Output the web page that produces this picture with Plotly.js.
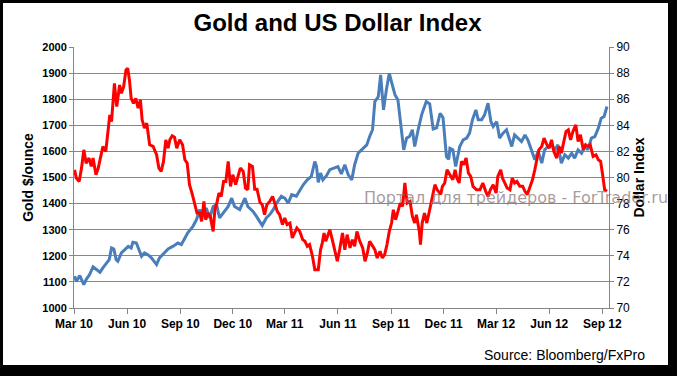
<!DOCTYPE html>
<html><head><meta charset="utf-8">
<script src="https://cdn.plot.ly/plotly-3.0.1.min.js"></script>
<style>
html,body{margin:0;padding:0;background:#000;width:677px;height:376px;overflow:hidden}
#chart{position:absolute;left:3px;top:3px;width:665px;height:362px;background:#fff;overflow:hidden}
</style></head><body><div id="chart"></div>
<script>
// Gold price ($/ounce), left axis
var goldDates = [
'2010-03-02','2010-03-05','2010-03-11','2010-03-14','2010-03-18','2010-03-22','2010-03-28',
'2010-04-03','2010-04-09','2010-04-15','2010-04-20','2010-04-26',
'2010-05-01','2010-05-05','2010-05-09','2010-05-13','2010-05-16','2010-05-22','2010-05-28',
'2010-06-03','2010-06-08','2010-06-11','2010-06-17','2010-06-20','2010-06-26',
'2010-07-01','2010-07-07','2010-07-13','2010-07-22','2010-07-27',
'2010-08-05','2010-08-11','2010-08-19','2010-08-28',
'2010-09-03','2010-09-09','2010-09-14','2010-09-23','2010-09-29',
'2010-10-05','2010-10-10','2010-10-16','2010-10-22','2010-10-28',
'2010-11-03','2010-11-08','2010-11-14','2010-11-23','2010-11-29',
'2010-12-04','2010-12-13','2010-12-22','2010-12-27',
'2011-01-05','2011-01-11','2011-01-17','2011-01-21','2011-01-28',
'2011-02-03','2011-02-09','2011-02-15','2011-02-23',
'2011-03-01','2011-03-07','2011-03-13','2011-03-21','2011-03-27',
'2011-04-02','2011-04-09','2011-04-16','2011-04-22','2011-04-25','2011-04-28',
'2011-05-02','2011-05-06','2011-05-12','2011-05-18','2011-05-27',
'2011-06-01','2011-06-07','2011-06-13','2011-06-19','2011-06-25','2011-06-30',
'2011-07-06','2011-07-12','2011-07-21','2011-07-26','2011-07-31',
'2011-08-04','2011-08-10','2011-08-14','2011-08-17','2011-08-19','2011-08-24','2011-08-29',
'2011-09-04','2011-09-08','2011-09-13','2011-09-17','2011-09-21','2011-09-23','2011-09-28',
'2011-10-03','2011-10-08','2011-10-12','2011-10-18','2011-10-24',
'2011-11-01','2011-11-07','2011-11-13','2011-11-19','2011-11-25','2011-11-30',
'2011-12-06','2011-12-10','2011-12-12','2011-12-17','2011-12-22','2011-12-29',
'2012-01-04','2012-01-10','2012-01-15','2012-01-20','2012-01-26','2012-01-30',
'2012-02-05','2012-02-10','2012-02-16','2012-02-21','2012-02-25',
'2012-03-02','2012-03-07','2012-03-13','2012-03-19','2012-03-28',
'2012-04-02','2012-04-08','2012-04-14','2012-04-20','2012-04-25',
'2012-05-01','2012-05-07','2012-05-13','2012-05-19','2012-05-24','2012-05-30',
'2012-06-05','2012-06-11','2012-06-16','2012-06-22','2012-06-28',
'2012-07-04','2012-07-10','2012-07-15','2012-07-21','2012-07-27',
'2012-08-02','2012-08-07','2012-08-13','2012-08-19','2012-08-25','2012-08-30',
'2012-09-04','2012-09-09'];
var goldPrices = [
1122,1102,1124,1110,1090,1109,1128,
1158,1147,1137,1154,1173,
1185,1230,1226,1185,1179,1211,1224,
1236,1230,1252,1249,1230,1198,
1211,1204,1192,1166,1192,
1211,1226,1236,1249,
1243,1268,1288,1313,1338,
1377,1351,1383,1345,1389,
1396,1345,1364,1389,1421,
1389,1377,1421,1389,
1370,1351,1332,1316,1345,
1358,1377,1402,1428,
1421,1402,1434,1428,1453,
1472,1491,1504,1561,1542,1481,
1517,1491,1506,1530,1536,
1542,1514,1549,1510,1491,1549,
1593,1606,1625,1657,1683,
1791,1810,1893,1810,1759,1836,1899,
1848,1816,1797,1721,1644,1606,1651,
1657,1683,1619,1683,1740,
1791,1782,1686,1690,1746,1730,
1580,1570,1612,1606,1542,1619,
1644,1651,1670,1721,1759,1721,
1721,1740,1785,1714,1695,
1714,1651,1670,1683,1619,
1663,1651,1638,1663,1644,
1606,1568,1600,1555,1606,1619,
1625,1606,1625,1555,1587,
1574,1593,1574,1606,1593,
1619,1606,1651,1657,1689,1727,
1734,1772];

// US Dollar Index, right axis
var usdDates = [
'2010-03-02','2010-03-05','2010-03-10','2010-03-14','2010-03-18','2010-03-22','2010-03-27','2010-03-31',
'2010-04-03','2010-04-08','2010-04-12','2010-04-16','2010-04-20','2010-04-25','2010-04-29',
'2010-05-02','2010-05-05','2010-05-08','2010-05-10','2010-05-14','2010-05-19','2010-05-22','2010-05-26','2010-05-30',
'2010-06-02','2010-06-05','2010-06-08','2010-06-12','2010-06-16','2010-06-20','2010-06-24','2010-06-27',
'2010-07-01','2010-07-05','2010-07-10','2010-07-16','2010-07-22','2010-07-26','2010-07-30',
'2010-08-03','2010-08-07','2010-08-11','2010-08-14','2010-08-18','2010-08-22','2010-08-26','2010-08-31',
'2010-09-05','2010-09-09','2010-09-13','2010-09-17','2010-09-22','2010-09-26','2010-09-30',
'2010-10-05','2010-10-08','2010-10-12','2010-10-15','2010-10-19','2010-10-23','2010-10-28','2010-10-31',
'2010-11-04','2010-11-07','2010-11-11','2010-11-15','2010-11-19','2010-11-23','2010-11-27',
'2010-12-01','2010-12-06','2010-12-10','2010-12-14','2010-12-19','2010-12-23','2010-12-27','2010-12-30',
'2011-01-04','2011-01-08','2011-01-12','2011-01-17','2011-01-21','2011-01-25','2011-01-29',
'2011-02-03','2011-02-08','2011-02-12','2011-02-16','2011-02-20','2011-02-25',
'2011-03-01','2011-03-05','2011-03-10','2011-03-14','2011-03-18','2011-03-22','2011-03-27',
'2011-04-01','2011-04-05','2011-04-09','2011-04-13','2011-04-18','2011-04-22','2011-04-28',
'2011-05-02','2011-05-05','2011-05-08','2011-05-11','2011-05-15','2011-05-18','2011-05-23','2011-05-27','2011-05-31',
'2011-06-04','2011-06-09','2011-06-13','2011-06-17','2011-06-22','2011-06-26','2011-06-30',
'2011-07-04','2011-07-09','2011-07-14','2011-07-18','2011-07-22','2011-07-26','2011-07-31',
'2011-08-04','2011-08-08','2011-08-13','2011-08-17','2011-08-21','2011-08-25','2011-08-29',
'2011-09-02','2011-09-05','2011-09-09','2011-09-13','2011-09-17','2011-09-21','2011-09-25','2011-09-29',
'2011-10-04','2011-10-08','2011-10-12','2011-10-15','2011-10-20','2011-10-22','2011-10-25','2011-10-29',
'2011-11-02','2011-11-07','2011-11-12','2011-11-16','2011-11-20','2011-11-26','2011-11-29',
'2011-12-03','2011-12-07','2011-12-11','2011-12-17','2011-12-21','2011-12-24','2011-12-28',
'2012-01-01','2012-01-05','2012-01-09','2012-01-13','2012-01-17','2012-01-21','2012-01-27',
'2012-02-02','2012-02-07','2012-02-12','2012-02-16','2012-02-20','2012-02-25',
'2012-03-01','2012-03-04','2012-03-09','2012-03-12','2012-03-16','2012-03-20','2012-03-25','2012-03-29',
'2012-04-02','2012-04-06','2012-04-11','2012-04-16','2012-04-20','2012-04-24','2012-04-28',
'2012-05-03','2012-05-07','2012-05-10','2012-05-14','2012-05-19','2012-05-23','2012-05-28',
'2012-06-01','2012-06-05','2012-06-09','2012-06-14','2012-06-18','2012-06-22','2012-06-26','2012-06-30',
'2012-07-04','2012-07-08','2012-07-12','2012-07-17','2012-07-21','2012-07-25','2012-07-30',
'2012-08-03','2012-08-07','2012-08-11','2012-08-16','2012-08-21','2012-08-25','2012-08-29',
'2012-09-01','2012-09-05','2012-09-09'];
var usdIndex = [
80.59,79.96,79.70,80.72,82.12,81.10,81.49,80.85,
81.49,80.21,80.72,81.49,82.38,81.99,83.52,
84.80,84.29,86.07,87.22,85.43,87.09,86.46,86.96,88.24,
88.37,87.48,86.07,85.69,86.07,85.31,85.95,84.42,
83.78,84.16,82.51,82.38,81.74,80.72,80.47,
81.23,82.89,82.25,82.89,83.19,83.09,82.25,82.89,
82.51,81.36,81.10,79.45,78.69,77.92,77.28,
77.28,76.64,78.17,76.77,77.28,77.02,75.87,77.53,
78.17,78.81,78.55,79.70,79.70,81.23,79.32,
80.21,79.45,80.21,80.72,80.47,79.19,79.06,80.98,
80.85,79.10,79.10,78.10,77.92,77.15,77.92,
78.17,78.55,77.92,77.40,77.15,76.39,
76.90,76.39,76.51,75.37,75.75,76.13,75.87,
75.24,75.11,74.73,74.86,73.96,72.94,72.94,
74.47,74.99,75.75,75.11,75.62,76.00,75.11,74.22,73.58,
74.47,75.75,74.47,75.62,74.60,75.24,74.73,
75.87,75.11,74.60,73.58,74.22,75.11,74.73,
74.47,73.83,74.35,73.83,74.09,74.86,75.87,
76.51,77.53,76.77,77.53,78.04,77.79,79.58,78.04,
78.17,77.02,76.51,77.15,75.87,74.86,76.51,77.28,
76.51,77.53,78.55,79.45,79.06,78.70,79.32,
79.58,80.59,80.30,79.83,80.59,79.96,79.58,
81.23,80.98,81.49,80.34,80.08,79.32,79.06,
79.06,79.58,78.94,78.55,79.06,79.45,
78.81,80.08,80.59,79.96,79.58,79.19,79.06,79.96,
79.58,79.70,79.32,79.32,78.94,78.69,79.19,
79.83,80.59,81.36,82.12,82.38,83.01,82.51,
82.25,82.89,81.99,81.49,82.38,81.87,82.76,83.52,
83.65,82.89,83.52,84.03,82.76,83.27,82.12,
82.51,82.38,82.51,81.61,81.74,81.36,81.23,
80.34,79.06,78.94];

var tickDates = ['2010-03-01','2010-06-01','2010-09-01','2010-12-01','2011-03-01','2011-06-01',
                 '2011-09-01','2011-12-01','2012-03-01','2012-06-01','2012-09-01'];
var tickLabels = ['Mar 10','Jun 10','Sep 10','Dec 10','Mar 11','Jun 11',
                  'Sep 11','Dec 11','Mar 12','Jun 12','Sep 12'];

var GRID = '#868686';
var FONT = 'Liberation Sans, Arial, sans-serif';

var traces = [
  {x: goldDates, y: goldPrices, type: 'scatter', mode: 'lines', name: 'Gold',
   line: {color: '#4a7ebb', width: 3}, yaxis: 'y', hoverinfo: 'x+y'},
  {x: usdDates, y: usdIndex, type: 'scatter', mode: 'lines', name: 'Dollar Index',
   line: {color: '#ff0000', width: 3}, yaxis: 'y2', hoverinfo: 'x+y'}
];

var layout = {
  width: 665, height: 362,
  margin: {l: 71, r: 59, t: 44, b: 57},
  paper_bgcolor: '#ffffff', plot_bgcolor: '#ffffff',
  showlegend: false,
  title: {text: 'Gold and US Dollar Index', xref: 'container', yref: 'container',
          x: 0.503, xanchor: 'center', y: 0.945, yanchor: 'middle',
          font: {family: FONT, size: 24, color: '#000', weight: 'bold'}},
  xaxis: {type: 'date', range: ['2010-03-01', '2012-09-12 12:00'],
          tickvals: tickDates, ticktext: tickLabels,
          ticks: 'outside', ticklen: 5, tickcolor: GRID, tickwidth: 1,
          showline: true, linecolor: GRID, linewidth: 1,
          showgrid: false, zeroline: false,
          tickfont: {family: FONT, size: 12, color: '#000', weight: 'bold'}},
  yaxis: {range: [1000, 2000], tick0: 1000, dtick: 100,
          ticks: 'outside', ticklen: 4, tickcolor: GRID, tickwidth: 1,
          showline: true, linecolor: GRID, linewidth: 1,
          showgrid: true, gridcolor: GRID, gridwidth: 1, zeroline: false,
          tickfont: {family: FONT, size: 11, color: '#000', weight: 'bold'},
          title: {text: 'Gold $/ounce', standoff: 5,
                  font: {family: FONT, size: 14, color: '#000', weight: 'bold'}}},
  yaxis2: {range: [70, 90], tick0: 70, dtick: 2, overlaying: 'y', side: 'right',
           ticks: 'outside', ticklen: 4, tickcolor: GRID, tickwidth: 1,
           showline: true, linecolor: GRID, linewidth: 1,
           showgrid: false, zeroline: false,
           tickfont: {family: FONT, size: 12, color: '#000'},
           title: {text: 'Dollar Index', standoff: 5,
                   font: {family: FONT, size: 14, color: '#000', weight: 'bold'}}},
  annotations: [
    {text: 'Портал для трейдеров - ForTrader.ru', xref: 'paper', yref: 'paper',
     x: 0.538, y: 0.4215, xanchor: 'left', yanchor: 'middle', showarrow: false,
     font: {family: 'DejaVu Sans, sans-serif', size: 16, color: 'rgba(140,122,122,0.75)'}},
    {text: 'Source: Bloomberg/FxPro', xref: 'paper', yref: 'paper',
     x: 1.071, y: -0.18, xanchor: 'right', yanchor: 'middle', showarrow: false,
     font: {family: FONT, size: 14, color: '#000'}}
  ]
};

Plotly.newPlot('chart', traces, layout, {displayModeBar: false, staticPlot: true});
</script></body></html>
